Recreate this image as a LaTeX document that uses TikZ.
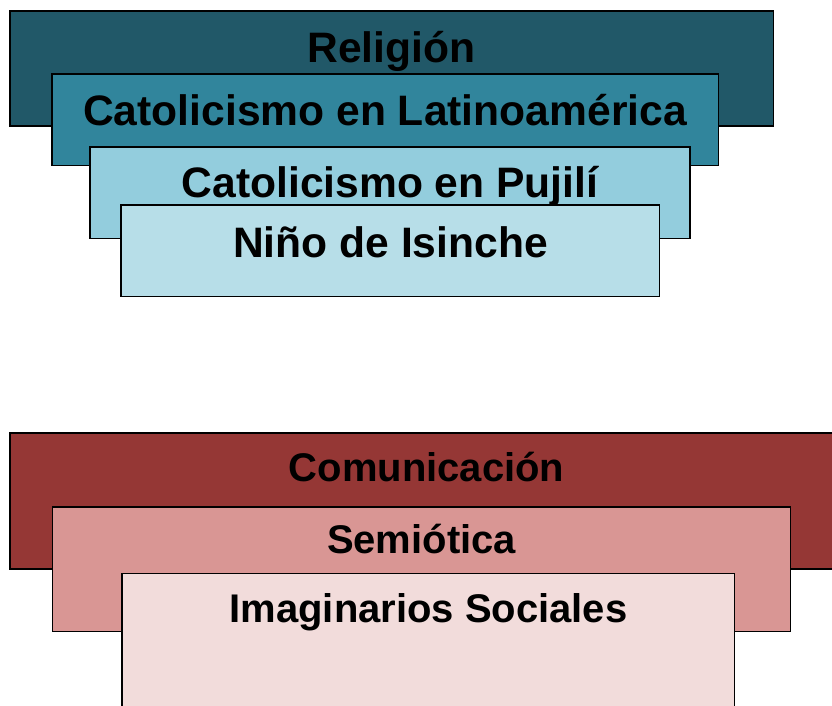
\documentclass[tikz,border=0pt]{standalone}
\usepackage{fontspec}
\setmainfont{Liberation Sans}
\definecolor{tealA}{HTML}{215868}
\definecolor{tealB}{HTML}{31859C}
\definecolor{tealC}{HTML}{93CDDD}
\definecolor{tealD}{HTML}{B7DEE8}
\definecolor{redA}{HTML}{953735}
\definecolor{redB}{HTML}{D99694}
\definecolor{redC}{HTML}{F2DCDB}
\tikzset{
  box/.style={draw=black, line width=1.6pt},
  lblbig/.style={anchor=base, inner sep=0pt, font=\fontsize{42.6}{50}\selectfont\bfseries},
  lblsmall/.style={anchor=base, inner sep=0pt, font=\fontsize{40}{48}\selectfont\bfseries},
}
\begin{document}
\begin{tikzpicture}[x=1pt,y=-1pt]
\useasboundingbox (0,0) rectangle (832,705);
\begin{scope}
\clip (0,0) rectangle (832,705);
% top group
\draw[box, fill=tealA] (10,11) rectangle (773.5,126);
\draw[box, fill=tealB] (52,74) rectangle (718.5,165.5);
\draw[box, fill=tealC] (90,147) rectangle (690,238.5);
\draw[box, fill=tealD] (121,205) rectangle (659.5,296.5);
% bottom group
\draw[box, fill=redA] (10,433) rectangle (843,569);
\draw[box, fill=redB] (52.5,507) rectangle (790.5,631.5);
\draw[box, fill=redC] (122,573.5) rectangle (734.5,760);
\end{scope}
\node[lblbig] (t1) at (391.5,62) {Religión};
\node[lblbig] (t2) at (385,125) {Catolicismo en Latinoamérica};
\node[lblbig] (t3) at (390,197) {Catolicismo en Pujilí};
\node[lblbig] (t4) at (390.5,257) {Niño de Isinche};
\node[lblsmall] (b1) at (426.5,481.5) {Comunicación};
\node[lblsmall] (b2) at (421.5,553) {Semiótica};
\node[lblsmall] (b3) at (428.5,622) {Imaginarios Sociales};
\end{tikzpicture}
\end{document}
